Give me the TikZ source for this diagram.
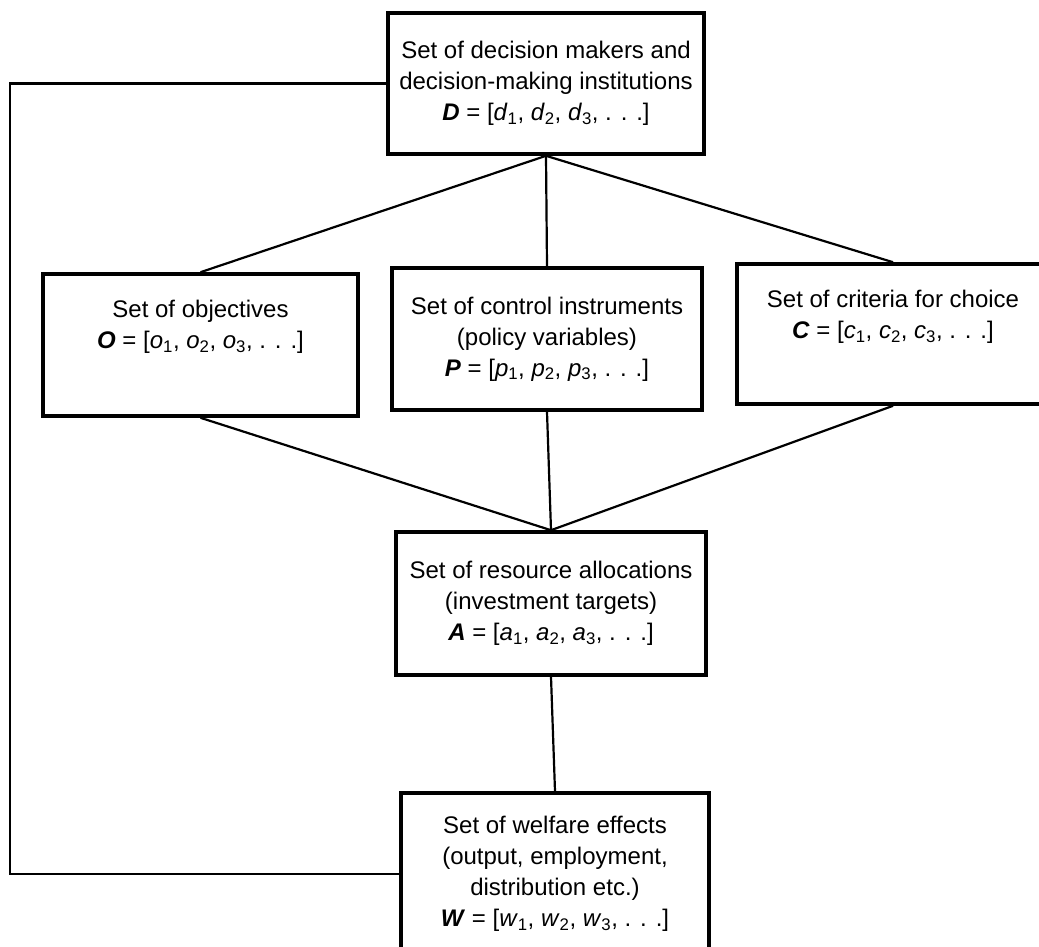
\documentclass[tikz,border=0pt]{standalone}
\usepackage{fontspec}
\setmainfont{Liberation Sans}
\newcommand{\bi}[1]{\textbf{\textit{#1}}}
\newcommand{\sub}[2]{\textit{#1}\textsubscript{#2}}
\begin{document}
\begin{tikzpicture}[x=1pt,y=-1pt,
  setbox/.style={draw,line width=3.6pt,align=center,inner sep=0pt,
    font=\fontsize{24}{31}\selectfont},
  conn/.style={line width=2.2pt}]
\useasboundingbox (0,0) rectangle (1039,946);
\node[setbox,minimum width=316pt,minimum height=141pt] (D) at (546,83.5)
  {Set of decision makers and\\decision-making institutions\\
   \bi{D} = [\sub{d}{1}, \sub{d}{2}, \sub{d}{3}, . . .]};
\node[setbox,minimum width=315pt,minimum height=142pt] (O) at (200.5,345)
  {Set of objectives\\\bi{O} = [\sub{o}{1}, \sub{o}{2}, \sub{o}{3}, . . .]\\[10pt]};
\node[setbox,minimum width=310pt,minimum height=142pt] (P) at (547,339)
  {Set of control instruments\\(policy variables)\\
   \bi{P} = [\sub{p}{1}, \sub{p}{2}, \sub{p}{3}, . . .]};
\node[setbox,minimum width=312pt,minimum height=140pt] (C) at (893,334)
  {Set of criteria for choice\\\bi{C} = [\sub{c}{1}, \sub{c}{2}, \sub{c}{3}, . . .]\\[8pt]};
\node[setbox,minimum width=310pt,minimum height=143pt] (A) at (551,603.5)
  {Set of resource allocations\\(investment targets)\\
   \bi{A} = [\sub{a}{1}, \sub{a}{2}, \sub{a}{3}, . . .]};
\node[setbox,minimum width=308pt,minimum height=162pt] (W) at (555,874)
  {Set of welfare effects\\(output, employment,\\distribution etc.)\\
   \bi{W} = [\sub{w}{1}, \sub{w}{2}, \sub{w}{3}, . . .]};
\coordinate (fb) at (10,500);
\draw[conn] (D.south) -- (O.north);
\draw[conn] (D.south) -- (P.north);
\draw[conn] (D.south) -- (C.north);
\draw[conn] (O.south) -- (A.north);
\draw[conn] (P.south) -- (A.north);
\draw[conn] (C.south) -- (A.north);
\draw[conn] (A.south) -- (W.north);
\draw[conn] (D.west) -| (fb) |- (W.west);
\end{tikzpicture}
\end{document}
